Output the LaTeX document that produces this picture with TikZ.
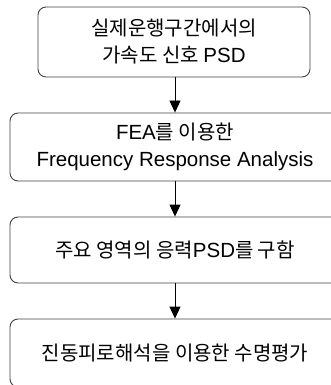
\documentclass[tikz,border=0pt]{standalone}
\usepackage{fontspec}
\setmainfont{Liberation Sans}
\newfontfamily\kr{Noto Sans CJK KR}
\newcommand{\lt}[1]{{\normalfont\fontsize{20.5}{27}\selectfont #1}}
\usetikzlibrary{arrows.meta}
\begin{document}
\begin{tikzpicture}[x=1pt,y=-1pt,
  box/.style={draw=black!75,line width=0.9pt,rounded corners=8pt,align=center,
    inner sep=0pt,font=\fontsize{20}{27}\selectfont\kr},
  flow/.style={draw=black,line width=0.9pt,-{Triangle[width=11pt,length=12pt]}}]
\useasboundingbox (0,0) rectangle (331,385);
\clip (0,0) rectangle (331,385);
\node[box,minimum width=272pt,minimum height=70pt] (b1) at (174,42) {실제운행구간에서의\\가속도 신호 \lt{PSD}};
\node[box,minimum width=330pt,minimum height=68pt] (b2) at (175,147) {\lt{FEA}를 이용한\\\lt{Frequency Response Analysis}};
\node[box,minimum width=330pt,minimum height=66pt] (b3) at (175,250) {주요 영역의 응력\lt{PSD}를 구함};
\node[box,minimum width=330pt,minimum height=68pt] (b4) at (175,353) {진동피로해석을 이용한 수명평가};
\draw[flow] (b1.south -| 175,0) -- (b2.north -| 175,0);
\draw[flow] (b2.south) -- (b3.north);
\draw[flow] (b3.south) -- (b4.north);
\end{tikzpicture}
\end{document}
